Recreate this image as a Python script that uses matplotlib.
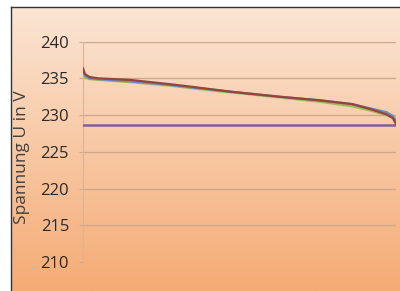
import numpy as np
import matplotlib
matplotlib.use('Agg')
from matplotlib import pyplot as plt
from matplotlib.lines import Line2D

# share of time in %, voltage readings
x_brown = [0, 0.6, 2, 5, 15, 28, 34, 47, 63, 76, 86, 92, 97, 99, 100]
u_brown = [236.4, 235.6, 235.2, 235.0, 234.8, 234.2, 233.9, 233.2, 232.5, 232.0, 231.5, 230.8, 230.1, 229.6, 228.8]

x_green = [0, 0.6, 2, 5, 15, 28, 34, 47, 63, 76, 86, 92, 97, 99, 100]
u_green = [235.7, 235.2, 234.9, 234.8, 234.5, 234.0, 233.7, 233.1, 232.4, 231.8, 231.2, 230.6, 230.0, 229.6, 229.2]

x_blue = [0, 0.6, 2, 5, 15, 28, 34, 47, 63, 76, 86, 92, 97, 99, 100]
u_blue = [235.9, 235.4, 235.0, 234.9, 234.6, 234.1, 233.8, 233.2, 232.5, 232.0, 231.5, 230.9, 230.4, 229.9, 229.3]

x_limit = [0, 100]
u_limit = [228.7, 228.7]

yticks = [210, 215, 220, 225, 230, 235, 240]

W, H = 400, 291
fig = plt.figure(figsize=(W/100, H/100), dpi=100)
fig.patch.set_facecolor('white')

# gradient background inside the frame
bg = fig.add_axes([11/W, 0, 1 - 11/W, 1 - 7/H])
top = np.array([251, 229, 212]) / 255
bot = np.array([245, 171, 116]) / 255
t = np.linspace(0, 1, 256)[:, None]
grad = top + (bot - top) * t
bg.imshow(grad[:, None, :], aspect='auto', extent=[0, 1, 0, 1])
bg.set_axis_off()

# frame lines
fig.add_artist(Line2D([11/W, 1], [1 - 7/H, 1 - 7/H], color='#333333', lw=1, transform=fig.transFigure))
fig.add_artist(Line2D([11/W, 11/W], [0, 1 - 7/H], color='#333333', lw=1, transform=fig.transFigure))

ax = fig.add_axes([83/W, (H - 262)/H, (396 - 83)/W, (262 - 41.7)/H])
ax.patch.set_alpha(0)
ax.set_xlim(0, 100)
ax.set_ylim(210, 240)

for y in yticks[1:]:
    ax.axhline(y, color='#cfa98e', lw=1, zorder=1)

ax.plot(x_limit, u_limit, color='#7f5f9a', lw=1.8, zorder=3)
ax.plot(x_green, u_green, color='#9bbb59', lw=1.6, zorder=4)
ax.plot(x_blue, u_blue, color='#6a8cc0', lw=1.6, zorder=5)
ax.plot(x_brown, u_brown, color='#94443a', lw=1.6, zorder=6)

ax.set_yticks(yticks)
ax.set_yticklabels([str(v) for v in yticks], fontsize=12, family='Open Sans', color='#2a2a2a')
ax.tick_params(axis='y', length=3, color='#cfa98e', pad=7)
ax.set_xticks([])
for s in ['top', 'right', 'bottom']:
    ax.spines[s].set_visible(False)
ax.spines['left'].set_color('#dcb495')

fig.text(22/W, 1 - 157/H, 'Spannung U in V', rotation=90, ha='center', va='center',
         fontsize=12.5, family='Open Sans', color='#404040')

fig.savefig('out.png', dpi=100)
